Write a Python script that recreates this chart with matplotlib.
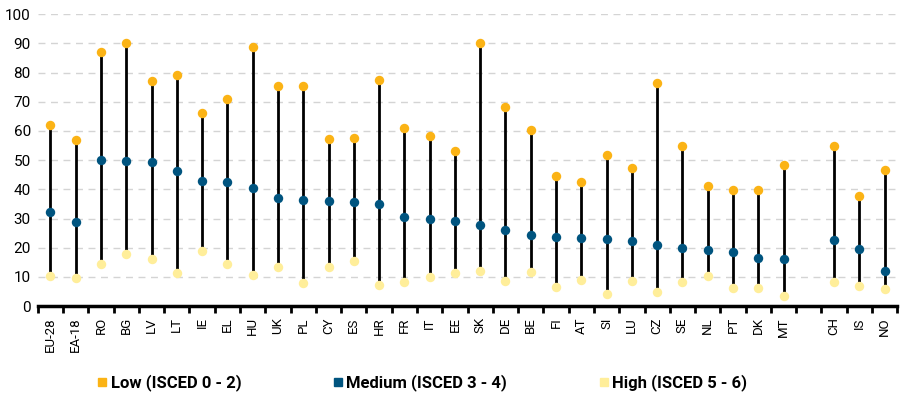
import matplotlib

matplotlib.use("Agg")
import matplotlib.pyplot as plt
from matplotlib.lines import Line2D

plt.rcParams["font.family"] = ["Roboto", "DejaVu Sans"]

countries = ["EU-28", "EA-18", "RO", "BG", "LV", "LT", "IE", "EL", "HU", "UK",
             "PL", "CY", "ES", "HR", "FR", "IT", "EE", "SK", "DE", "BE", "FI",
             "AT", "SI", "LU", "CZ", "SE", "NL", "PT", "DK", "MT",
             "", "CH", "IS", "NO"]
low = [62.1, 56.9, 87.0, 90.3, 77.1, 79.3, 66.2, 70.9, 88.7, 75.3,
       75.4, 57.4, 57.6, 77.6, 61.1, 58.4, 53.3, 90.2, 68.1, 60.4, 44.7,
       42.4, 51.6, 47.4, 76.4, 54.7, 41.3, 39.7, 39.9, 48.5,
       None, 55.0, 37.8, 46.6]
medium = [32.3, 28.8, 49.9, 49.7, 49.5, 46.3, 42.9, 42.6, 40.4, 37.2,
          36.3, 35.9, 35.6, 35.1, 30.5, 29.9, 29.2, 27.7, 26.0, 24.3, 23.6,
          23.2, 22.9, 22.4, 20.9, 20.0, 19.3, 18.6, 16.5, 16.1,
          None, 22.5, 19.6, 12.2]
high = [10.3, 9.8, 14.6, 18.0, 16.2, 11.4, 18.9, 14.6, 10.8, 13.5,
        8.0, 13.5, 15.3, 7.3, 8.1, 10.0, 11.2, 12.1, 8.6, 11.6, 6.5,
        8.9, 4.2, 8.6, 4.7, 8.2, 10.3, 6.1, 6.3, 3.5,
        None, 8.2, 6.9, 5.8]

c_low, c_med, c_high = "#FBB315", "#00547F", "#FFEE9A"

fig = plt.figure(figsize=(9, 3.94), dpi=100)
ax = fig.add_axes([0.042, 0.223, 0.955, 0.741])

x = range(len(countries))
for i in x:
    if low[i] is None:
        continue
    vals = [low[i], medium[i], high[i]]
    ax.plot([i, i], [min(vals), max(vals)], color="black", lw=2, zorder=2)
    ax.plot(i, low[i], "o", color=c_low, ms=6.8, mec="none", zorder=3)
    ax.plot(i, medium[i], "o", color=c_med, ms=6.8, mec="none", zorder=3)
    ax.plot(i, high[i], "o", color=c_high, ms=6.8, mec="none", zorder=3)

ax.set_xlim(-0.5, len(countries) - 0.5)
ax.set_ylim(0, 100)
ax.set_yticks(range(0, 101, 10))
ax.yaxis.grid(True, color="#d4d4d4", ls=(0, (5, 4)), lw=1)
ax.set_axisbelow(True)
for s in ["top", "right", "left"]:
    ax.spines[s].set_visible(False)
ax.spines["bottom"].set_linewidth(2.5)
ax.tick_params(axis="y", length=0, labelsize=11, pad=5)

ax.set_xticks(list(x))
ax.set_xticklabels(countries, rotation=90, fontsize=9.5)
ax.set_xticks([i - 0.5 for i in range(len(countries) + 1)], minor=True)
ax.tick_params(axis="x", which="major", length=0, pad=8)
ax.tick_params(axis="x", which="minor", length=5, width=2)

handles = [
    Line2D([], [], marker="s", ls="none", color=c_low, ms=5.5),
    Line2D([], [], marker="s", ls="none", color=c_med, ms=5.5),
    Line2D([], [], marker="s", ls="none", color=c_high, ms=5.5),
]
fig.legend(handles, ["Low (ISCED 0 - 2)", "Medium (ISCED 3 - 4)", "High (ISCED 5 - 6)"],
           loc="center", bbox_to_anchor=(0.468, 0.028), ncol=3, frameon=False,
           handletextpad=0.1, columnspacing=5.4, handlelength=0.8,
           prop={"weight": "bold", "size": 12})

fig.savefig("out.png", dpi=100)
